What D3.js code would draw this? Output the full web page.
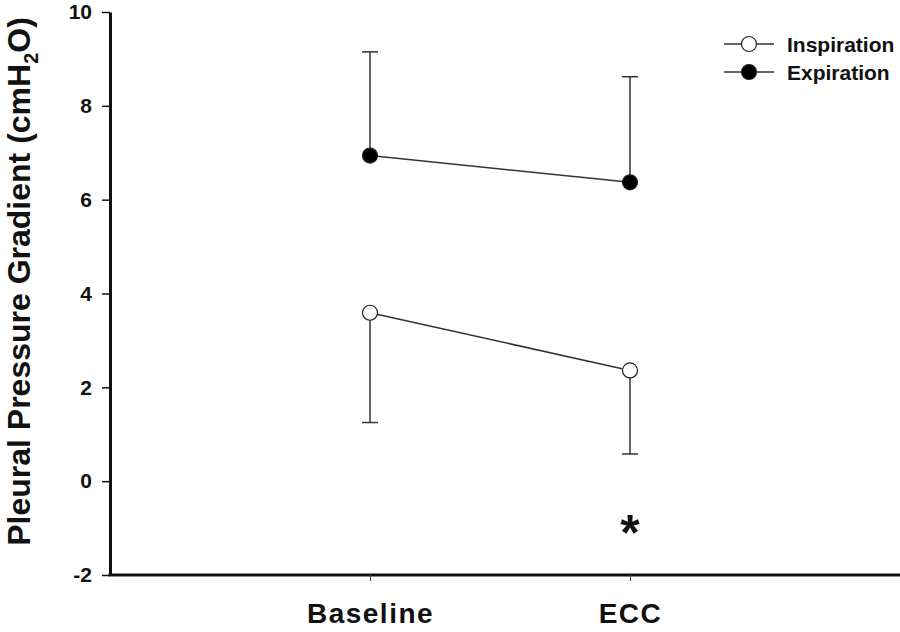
<!DOCTYPE html>
<meta charset="utf-8">
<style>
  body { margin: 0; background: #fff; }
  svg { display: block; }
  text { font-family: Arial, "Liberation Sans", sans-serif; font-weight: bold; fill: #111; }
</style>
<body>
<svg id="chart" width="900" height="632"></svg>
<script src="https://cdnjs.cloudflare.com/ajax/libs/d3/7.8.5/d3.min.js"></script>
<script>
// data (cmH2O)
var conditions = ["Baseline", "ECC"];
var inspiration = [3.59, 2.36];
var inspirationSD = [2.34, 1.78];     // drawn downward
var expiration = [6.94, 6.37];
var expirationSD = [2.21, 2.25];      // drawn upward
var yTicks = [-2, 0, 2, 4, 6, 8, 10];
var starAt = { condition: "ECC", value: -0.87 };

var svg = d3.select("#chart");
var W = 900;

var x = d3.scalePoint().domain(conditions).range([110, 890]).padding(1);
var y = d3.scaleLinear().domain([-2, 10]).range([575, 12]);

// y axis
var gy = svg.append("g").attr("transform", "translate(110,0)")
  .call(d3.axisLeft(y).tickValues(yTicks).tickFormat(function (d) { return String(d); })
    .tickSize(8).tickSizeOuter(0).tickPadding(10));
gy.select(".domain").attr("stroke", "#111").attr("stroke-width", 3);
gy.selectAll(".tick line").attr("stroke", "#111").attr("stroke-width", 1.5);
gy.selectAll(".tick text").style("font-size", "21px").attr("fill", "#111");

// x axis
var gx = svg.append("g").attr("transform", "translate(0,575)")
  .call(d3.axisBottom(x).tickSize(6).tickSizeOuter(0).tickPadding(22));
gx.select(".domain").attr("d", "M" + (x.range()[0] - 1.5) + ",0H" + W).attr("stroke", "#111").attr("stroke-width", 3);
gx.selectAll(".tick line").attr("stroke", "#444").attr("stroke-width", 1);
gx.selectAll(".tick text").style("font-size", "28px").style("letter-spacing", "1.5px").attr("fill", "#111");

// y title
var title = svg.append("text")
  .attr("transform", "translate(30," + ((y(10) + y(-2)) / 2 - 12) + ") rotate(-90)")
  .attr("text-anchor", "middle")
  .style("font-size", "32px");
title.append("tspan").text("Pleural Pressure Gradient (cmH");
title.append("tspan").text("2").style("font-size", "20px").attr("dy", 8);
title.append("tspan").text("O)").attr("dy", -8);

var series = [
  { name: "Inspiration", values: inspiration, sd: inspirationSD, dir: -1, fill: "#fff" },
  { name: "Expiration", values: expiration, sd: expirationSD, dir: 1, fill: "#000" }
];

var line = d3.line().x(function (d, i) { return x(conditions[i]); }).y(function (d) { return y(d); });

series.forEach(function (s) {
  var g = svg.append("g");
  // error bars (one-sided)
  s.values.forEach(function (v, i) {
    var cx = x(conditions[i]);
    var end = v + s.dir * s.sd[i];
    g.append("line").attr("x1", cx).attr("x2", cx).attr("y1", y(v)).attr("y2", y(end))
      .attr("stroke", "#333").attr("stroke-width", 1.5);
    g.append("line").attr("x1", cx - 8).attr("x2", cx + 8).attr("y1", y(end)).attr("y2", y(end))
      .attr("stroke", "#333").attr("stroke-width", 1.5);
  });
  g.append("path").datum(s.values).attr("d", line)
    .attr("fill", "none").attr("stroke", "#333").attr("stroke-width", 1.5);
  g.selectAll("circle").data(s.values).enter().append("circle")
    .attr("cx", function (d, i) { return x(conditions[i]); })
    .attr("cy", function (d) { return y(d); })
    .attr("r", 7.5)
    .attr("fill", s.fill).attr("stroke", "#222").attr("stroke-width", 1.2);
});

// significance star
svg.append("text")
  .attr("x", x(starAt.condition))
  .attr("y", y(starAt.value) + 28)
  .attr("text-anchor", "middle")
  .style("font-size", "50px")
  .text("*");

// legend
var legend = svg.append("g").attr("transform", "translate(724,44)");
series.forEach(function (s, i) {
  var row = legend.append("g").attr("transform", "translate(0," + (i * 28) + ")");
  row.append("line").attr("x1", 0).attr("x2", 50).attr("stroke", "#333").attr("stroke-width", 1.5);
  row.append("circle").attr("cx", 25).attr("r", 7.5).attr("fill", s.fill).attr("stroke", "#222").attr("stroke-width", 1.2);
  row.append("text").attr("x", 63).attr("y", 7.5).style("font-size", "21px").text(s.name);
});
</script>
</body>
